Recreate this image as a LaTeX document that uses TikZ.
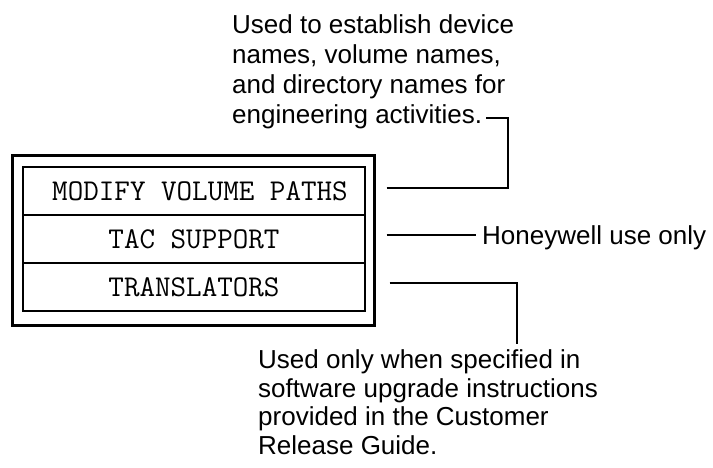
\documentclass[tikz,border=0pt]{standalone}
\usepackage{fontspec}
\setmainfont{Liberation Sans}
\begin{document}
\begin{tikzpicture}[x=1pt,y=-1pt,
  cell/.style={draw,line width=2pt,minimum width=342pt,minimum height=48pt,inner sep=0pt,font=\fontsize{30.2}{32}\selectfont\ttfamily},
  frame/.style={draw,line width=3pt,minimum width=362pt,minimum height=170pt,inner sep=0pt},
  note/.style={inner sep=0pt,align=left,font=\fontsize{26}{30}\selectfont},
  conn/.style={line width=2pt}]
\useasboundingbox (0,0) rectangle (713,467);
\node[frame] (frame) at (193,240) {};
\node[cell] (c1) at (194,191) {\hspace*{12pt}MODIFY VOLUME PATHS};
\node[cell] (c2) at (194,239) {TAC SUPPORT};
\node[cell] (c3) at (194,287) {TRANSLATORS};
\node[note,anchor=north west] (top) at (232,14.5) {Used to establish device\\names, volume names,\\and directory names for\\engineering activities.};
\node[note,anchor=base west] (honey) at (482,244) {Honeywell use only};
\node[note,anchor=north west,font=\fontsize{26}{28.5}\selectfont] (bot) at (258,349.5) {Used only when specified in\\software upgrade instructions\\provided in the Customer\\Release Guide.};
% connectors
\path (frame.east |- c1.east) ++(11,-3) coordinate (s1);
\coordinate (e1) at (486,118);
\draw[conn] (s1) -| ([xshift=22pt]e1) -- (e1);
\path (frame.east |- c2.east) ++(11,-4) coordinate (s2);
\path (s2 -| honey.west) ++(-6,0) coordinate (e2);
\draw[conn] (s2) -- (e2);
\path (frame.east |- c3.east) ++(14,-4) coordinate (s3);
\path (bot.north west) ++(259,-6) coordinate (e3);
\draw[conn] (s3) -| (e3);
\end{tikzpicture}
\end{document}
